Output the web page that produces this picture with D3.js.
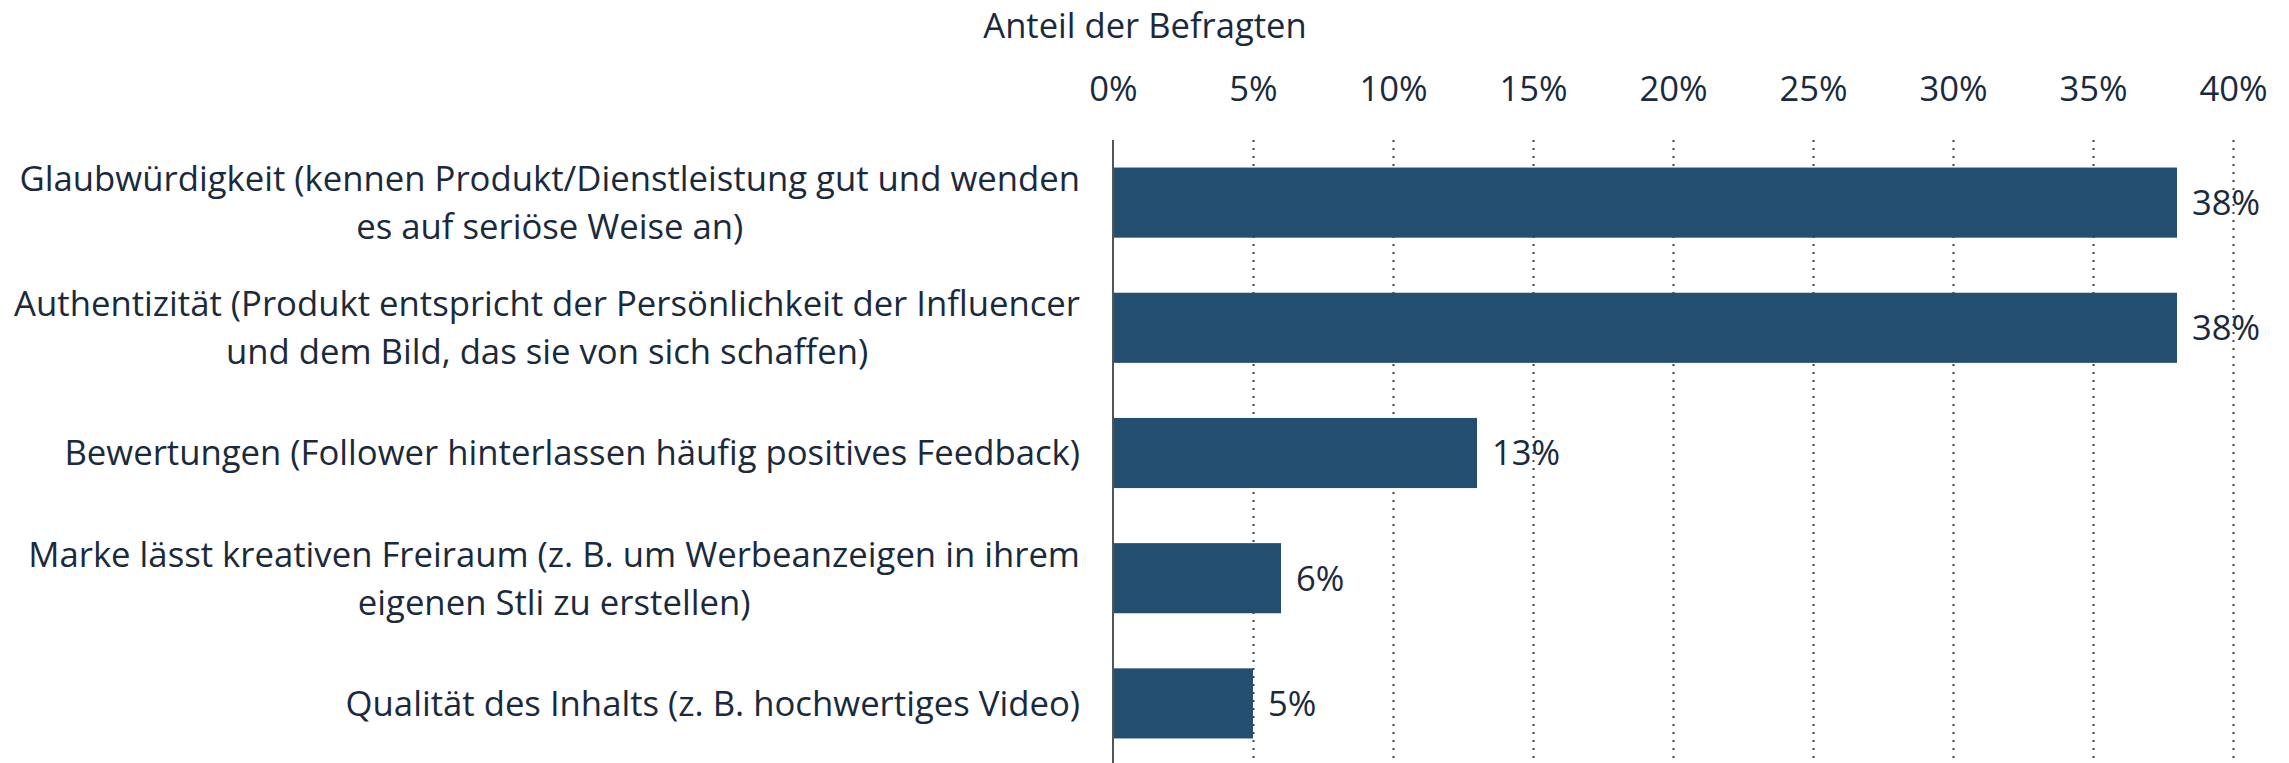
<!DOCTYPE html>
<html>
<head>
<meta charset="utf-8">
<script src="https://cdn.jsdelivr.net/npm/d3@7"></script>
<style>
  html, body { margin: 0; padding: 0; background: #fff; }
  svg { display: block; font-family: "Open Sans", sans-serif; }
</style>
</head>
<body>
<svg id="chart" width="2289" height="763"></svg>
<script>
const categories = [
  ["Glaubwürdigkeit (kennen Produkt/Dienstleistung gut und wenden", "es auf seriöse Weise an)"],
  ["Authentizität (Produkt entspricht der Persönlichkeit der Influencer", "und dem Bild, das sie von sich schaffen)"],
  ["Bewertungen (Follower hinterlassen häufig positives Feedback)"],
  ["Marke lässt kreativen Freiraum (z. B. um Werbeanzeigen in ihrem", "eigenen Stli zu erstellen)"],
  ["Qualität des Inhalts (z. B. hochwertiges Video)"]
];
const values = [38, 38, 13, 6, 5];
const ticks = [0, 5, 10, 15, 20, 25, 30, 35, 40];
const axisTitle = "Anteil der Befragten";

const textColor = "#1a2a3c";
const barColor = "#244e6f";
const fontSize = 34.6;
const labelFontSize = 34.7;

const svg = d3.select("#chart");
const x0 = 1113, x1 = 2233, yTop = 140, yBottom = 766;

const x = d3.scaleLinear().domain([0, 40]).range([x0, x1]);
const y = d3.scaleBand().domain(d3.range(categories.length)).range([yTop, yBottom]).paddingInner(0.44).paddingOuter(0.22);

// gridlines
svg.append("g").selectAll("line").data(ticks.filter(t => t > 0)).join("line")
  .attr("x1", d => Math.round(x(d)) + 0.5).attr("x2", d => Math.round(x(d)) + 0.5)
  .attr("y1", yTop).attr("y2", 763)
  .attr("stroke", "#444").attr("stroke-width", 2).attr("stroke-dasharray", "2,6");

// top axis tick labels
const axis = d3.axisTop(x).tickValues(ticks).tickFormat(d => d + "%").tickSize(0).tickPadding(0);
const ga = svg.append("g").attr("transform", `translate(0, ${101})`).call(axis);
ga.select(".domain").remove();
ga.selectAll("text").attr("font-size", fontSize).attr("fill", textColor)
  .attr("font-family", "'Open Sans', sans-serif").attr("dy", 0);

// axis title
svg.append("text").attr("x", 1145).attr("y", 38).attr("text-anchor", "middle")
  .attr("font-size", fontSize).attr("fill", textColor).text(axisTitle);

// bars
svg.append("g").selectAll("rect").data(values).join("rect")
  .attr("x", x(0)).attr("y", (d, i) => y(i))
  .attr("width", d => x(d) - x(0)).attr("height", y.bandwidth())
  .attr("fill", barColor);

// value labels
svg.append("g").selectAll("text").data(values).join("text")
  .attr("x", d => x(d) + 15).attr("y", (d, i) => y(i) + y.bandwidth() / 2)
  .attr("dy", "0.36em").attr("font-size", fontSize).attr("fill", textColor)
  .text(d => d + "%");

// category labels: right aligned block, lines centered within block
const labelRight = 1080;
const lineH = 48;
categories.forEach((lines, i) => {
  const g = svg.append("g");
  const texts = lines.map((l, j) => g.append("text")
    .attr("font-size", labelFontSize).attr("fill", textColor).attr("text-anchor", "middle")
    .attr("dy", "0.36em")
    .attr("y", y(i) + y.bandwidth() / 2 + (j - (lines.length - 1) / 2) * lineH)
    .text(l));
  const maxW = d3.max(texts, t => t.node().getComputedTextLength());
  texts.forEach(t => t.attr("x", labelRight - maxW / 2));
});

// axis line
svg.append("line").attr("x1", x0).attr("x2", x0).attr("y1", yTop).attr("y2", 763)
  .attr("stroke", "#555").attr("stroke-width", 2);
</script>
</body>
</html>
